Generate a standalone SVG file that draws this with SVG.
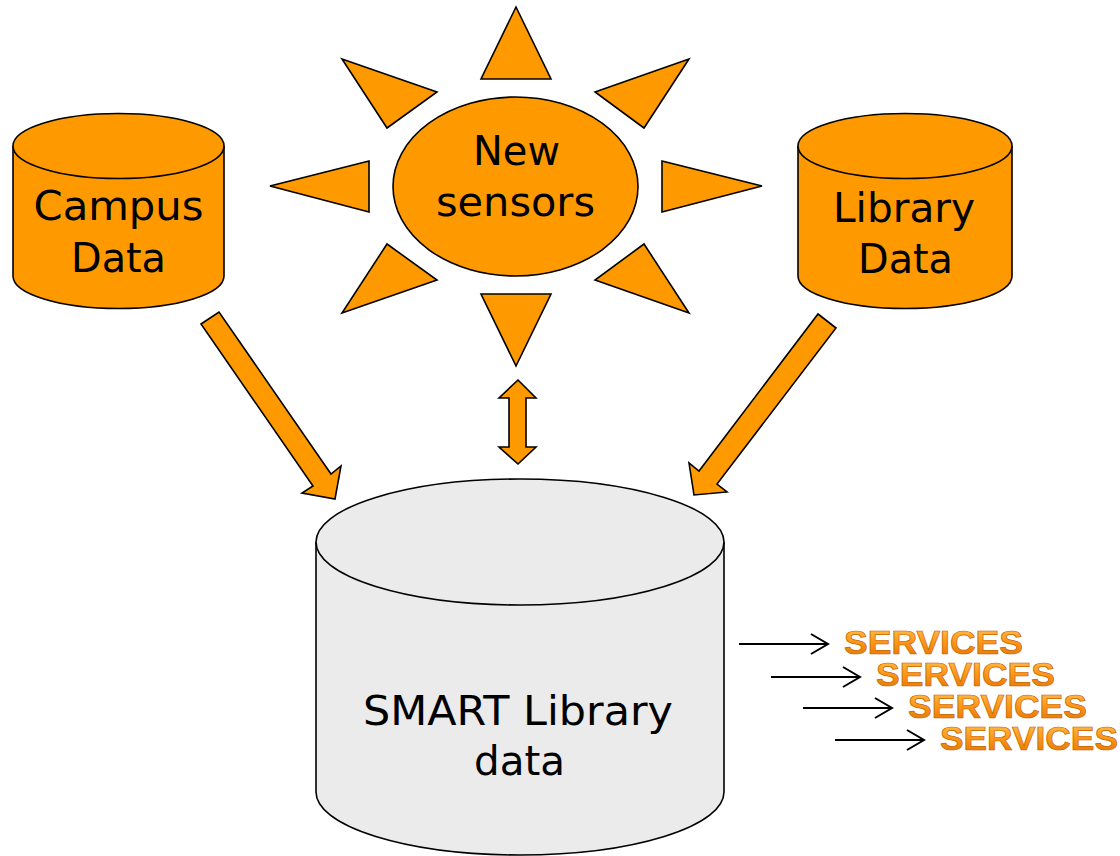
<svg xmlns="http://www.w3.org/2000/svg" width="1120" height="856" viewBox="0 0 1120 856">
<defs>
<linearGradient id="svc" x1="0" y1="0" x2="0" y2="1">
<stop offset="0" stop-color="#FFC85A"/>
<stop offset="0.45" stop-color="#FF9A1A"/>
<stop offset="1" stop-color="#E07000"/>
</linearGradient>
</defs>
<style>
.org{fill:#FF9900;stroke:#000;stroke-width:1.6}
.gray{fill:#EBEBEB;stroke:#000;stroke-width:1.6}
.lbl{font-family:"DejaVu Sans",Verdana,sans-serif;font-size:40px;fill:#000;text-anchor:middle}
.svc{font-family:"Liberation Sans",Arial,sans-serif;font-weight:bold;font-size:33px;fill:url(#svc);stroke:#C86400;stroke-width:0.7}
.ln{stroke:#000;stroke-width:2;fill:none}
</style>
<rect width="1120" height="856" fill="#fff"/>

<g id="campus">
<path class="org" d="M13,146 L13,276 A105.5,32.5 0 0 0 224,276 L224,146"/>
<ellipse class="org" cx="118.5" cy="146" rx="105.5" ry="32.5"/>
<text class="lbl" x="118.5" y="220" textLength="170" lengthAdjust="spacingAndGlyphs">Campus</text>
<text class="lbl" x="118.5" y="272" textLength="95" lengthAdjust="spacingAndGlyphs">Data</text>
</g>

<g id="library">
<path class="org" d="M798,146 L798,276 A107,32.5 0 0 0 1012,276 L1012,146"/>
<ellipse class="org" cx="905" cy="146" rx="107" ry="32.5"/>
<text class="lbl" x="904" y="222" textLength="142" lengthAdjust="spacingAndGlyphs">Library</text>
<text class="lbl" x="905.5" y="273" textLength="95" lengthAdjust="spacingAndGlyphs">Data</text>
</g>

<g id="sensors">
<polygon class="org" points="516,7 551,79 481,79"/>
<polygon class="org" points="481,294 551,294 516,366"/>
<polygon class="org" points="270,186 369,161 369,212"/>
<polygon class="org" points="762,186 662,161 662,212"/>
<polygon class="org" points="342,59 437,92 387,128"/>
<polygon class="org" points="689,59 595,92 644,128"/>
<polygon class="org" points="387,244 437,280 342,313"/>
<polygon class="org" points="644,244 595,280 689,313"/>
<ellipse class="org" cx="515.5" cy="186.5" rx="122.5" ry="89.5"/>
<text class="lbl" x="516.5" y="165" textLength="87" lengthAdjust="spacingAndGlyphs">New</text>
<text class="lbl" x="515.5" y="216" textLength="159" lengthAdjust="spacingAndGlyphs">sensors</text>
</g>

<g id="smart">
<path class="gray" d="M316,542 L316,792 A204,63 0 0 0 724,792 L724,542"/>
<ellipse class="gray" cx="520" cy="542" rx="204" ry="63"/>
<text class="lbl" x="518" y="725" textLength="310" lengthAdjust="spacingAndGlyphs">SMART Library</text>
<text class="lbl" x="519.5" y="775" textLength="91" lengthAdjust="spacingAndGlyphs">data</text>
</g>

<g id="services">
<text class="svc" x="844" y="654" textLength="179" lengthAdjust="spacingAndGlyphs">SERVICES</text>
<text class="svc" x="876" y="686" textLength="179" lengthAdjust="spacingAndGlyphs">SERVICES</text>
<text class="svc" x="908" y="718" textLength="179" lengthAdjust="spacingAndGlyphs">SERVICES</text>
<text class="svc" x="940" y="750" textLength="178" lengthAdjust="spacingAndGlyphs">SERVICES</text>
</g>

<g id="connectors">
<polygon class="org" points="201,324 219,312 331,474 341,466 335,499 302,493 313,486"/>
<polygon class="org" points="836,328 818,314 699,471 689,463 694,495 727,492 717,484"/>
<polygon class="org" points="518,380 536,398 526,398 526,447 536,447 518,464 499,447 509,447 509,398 499,398"/>
<path class="ln" d="M739,644 H827 M811,634 L828,644 L811,654"/>
<path class="ln" d="M771,677 H859 M843,667 L860,677 L843,687"/>
<path class="ln" d="M803,708 H891 M875,698 L892,708 L875,718"/>
<path class="ln" d="M835,740 H923 M907,730 L924,740 L907,750"/>
</g>
</svg>
